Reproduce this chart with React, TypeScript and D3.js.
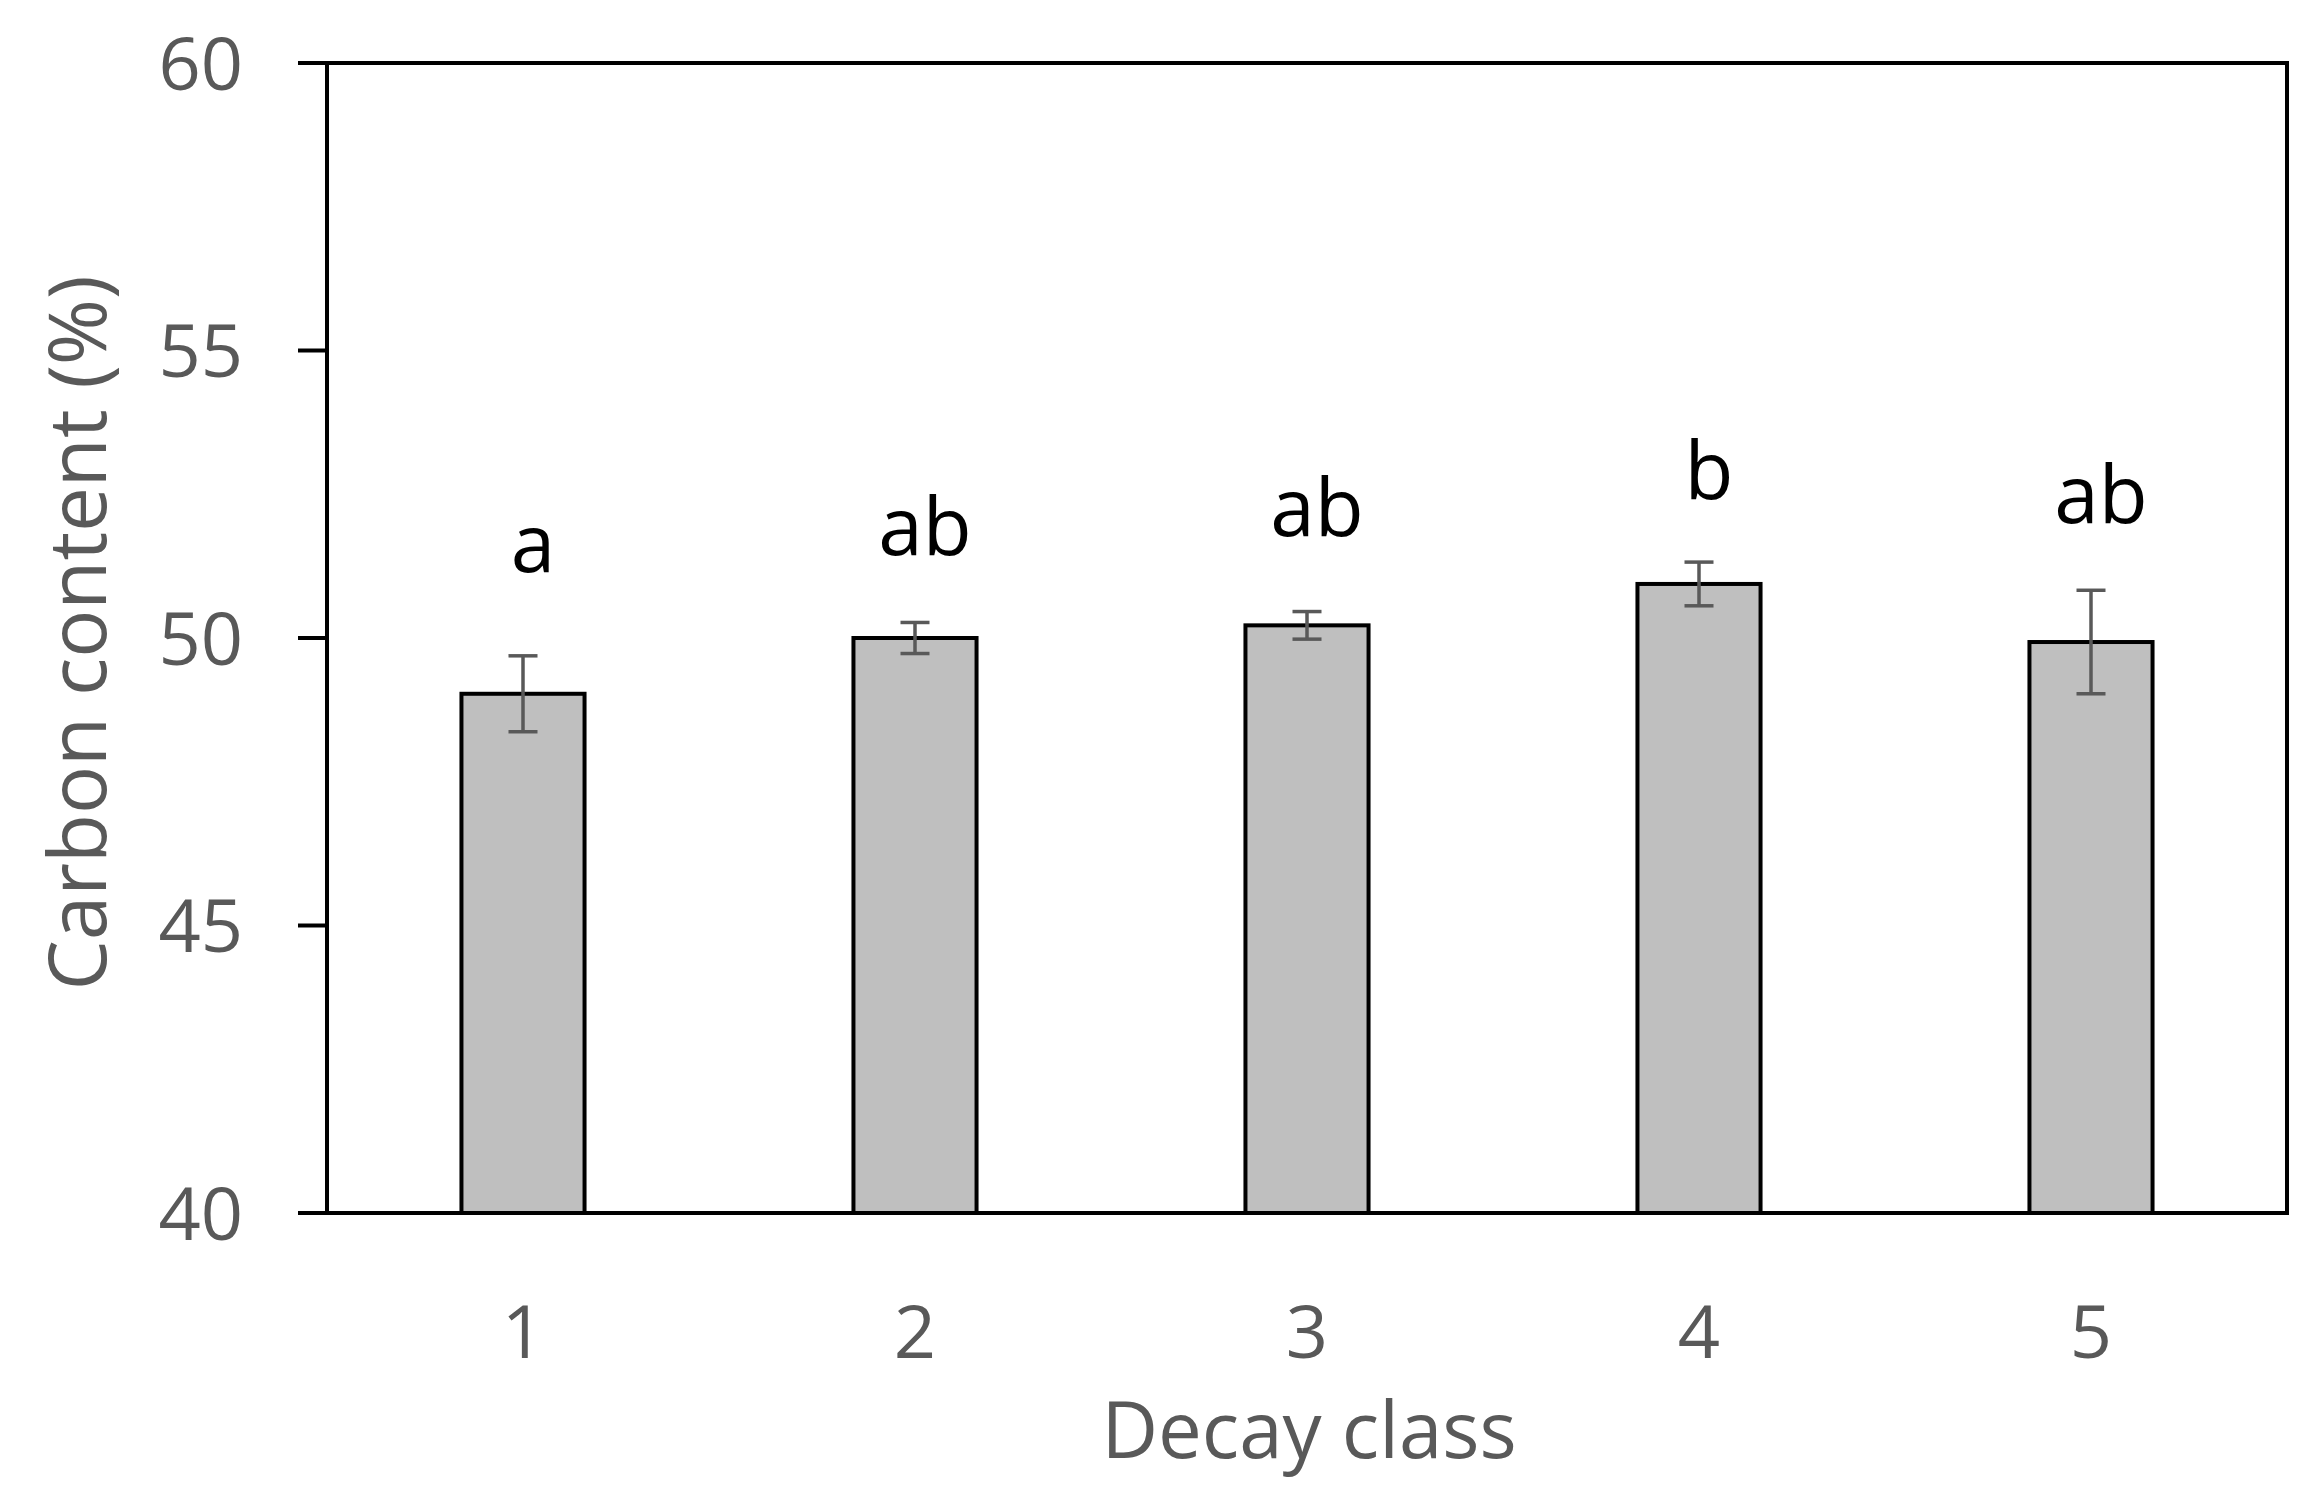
import React from "react";
import * as d3 from "d3";

const categories = ["1", "2", "3", "4", "5"];
const meanValues = [49.03, 50.0, 50.22, 50.94, 49.93];
const errValues = [0.66, 0.27, 0.24, 0.38, 0.9];
const letters = ["a", "ab", "ab", "b", "ab"];
const letterLevels = [51.15, 51.44, 51.77, 52.42, 52.0];
const yTicks = [40, 45, 50, 55, 60];

const W = 2322;
const H = 1497;
const left = 327;
const right = 2287;
const top = 63;
const bottom = 1213;
const FONT = "'Open Sans', 'Noto Sans', sans-serif";
const GRAY = "#595959";

export default function App() {
  const x = d3.scaleBand<string>().domain(categories).range([left, right]).paddingInner(0.686).paddingOuter(0.343);
  const y = d3.scaleLinear().domain([40, 60]).range([bottom, top]);
  const bw = x.bandwidth();
  return (
    <svg width={W} height={H} style={{ position: "absolute", left: 0, top: 0, background: "#fff" }}>
      <rect x={0} y={0} width={W} height={H} fill="#fff" />
      {categories.map((c, i) => {
        const cx = (x(c) as number) + bw / 2;
        return (
          <g key={c}>
            <rect x={x(c)} y={y(meanValues[i])} width={bw} height={bottom - y(meanValues[i])} fill="#BFBFBF" stroke="#000" strokeWidth={4} />
            <g stroke={GRAY} strokeWidth={3.5}>
              <line x1={cx} x2={cx} y1={y(meanValues[i] + errValues[i])} y2={y(meanValues[i] - errValues[i])} />
              <line x1={cx - 14.5} x2={cx + 14.5} y1={y(meanValues[i] + errValues[i])} y2={y(meanValues[i] + errValues[i])} />
              <line x1={cx - 14.5} x2={cx + 14.5} y1={y(meanValues[i] - errValues[i])} y2={y(meanValues[i] - errValues[i])} />
            </g>
            <text x={cx + 10} y={y(letterLevels[i])} textAnchor="middle" fontFamily={FONT} fontSize={80} fill="#000">
              {letters[i]}
            </text>
            <text x={cx} y={1358} textAnchor="middle" fontFamily={FONT} fontSize={74} fill={GRAY}>
              {c}
            </text>
          </g>
        );
      })}
      <rect x={left} y={top} width={right - left} height={bottom - top} fill="none" stroke="#000" strokeWidth={4} />
      {yTicks.map((t) => (
        <g key={t}>
          <line x1={298} x2={left} y1={y(t)} y2={y(t)} stroke="#000" strokeWidth={4} />
          <text x={243} y={y(t)} dy="0.36em" textAnchor="end" fontFamily={FONT} fontSize={74} fill={GRAY}>
            {t}
          </text>
        </g>
      ))}
      <text x={(left + right) / 2 + 2} y={1458} textAnchor="middle" fontFamily={FONT} fontSize={78} fill={GRAY}>
        Decay class
      </text>
      <text transform={`translate(106, ${(top + bottom) / 2 - 5}) rotate(-90)`} textAnchor="middle" fontFamily={FONT} fontSize={80} fill={GRAY}>
        Carbon content (%)
      </text>
    </svg>
  );
}
